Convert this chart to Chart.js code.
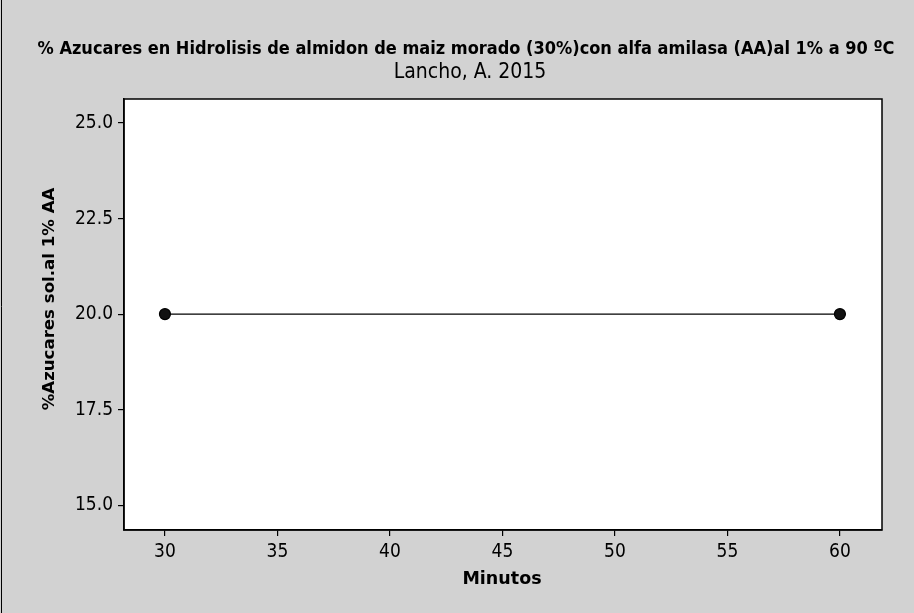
<!DOCTYPE html>
<html>
<head>
<meta charset="utf-8">
<script src="https://cdn.jsdelivr.net/npm/chart.js@4"></script>
<style>
html,body{margin:0;padding:0;background:#d2d2d2;}
#wrap{position:relative;width:914px;height:613px;}
</style>
</head>
<body>
<div id="wrap"><canvas id="c" width="914" height="613"></canvas></div>
<script>
const minutos = [30, 60];
const azucares = [20.0, 20.0];
const xTicks = [30, 35, 40, 45, 50, 55, 60];
const yTicks = [15.0, 17.5, 20.0, 22.5, 25.0];
const titleText = "% Azucares en Hidrolisis de almidon de maiz morado (30%)con alfa amilasa (AA)al 1% a 90 ºC";
const subtitleText = "Lancho, A. 2015";
const xTitle = "Minutos";
const yTitle = "%Azucares sol.al 1% AA";

const points = minutos.map((x, i) => ({x: x, y: azucares[i]}));

const bgPlugin = {
  id: 'bg',
  beforeDraw(chart) {
    const ctx = chart.ctx;
    ctx.save();
    ctx.fillStyle = '#d2d2d2';
    ctx.fillRect(0, 0, chart.width, chart.height);
    const a = chart.chartArea;
    ctx.fillStyle = '#ffffff';
    ctx.fillRect(a.left, a.top, a.right - a.left, a.bottom - a.top);
    ctx.strokeStyle = '#000';
    ctx.lineWidth = 1;
    ctx.beginPath();
    ctx.moveTo(1.5, 0); ctx.lineTo(1.5, chart.height);
    ctx.stroke();
    ctx.restore();
  },
  afterDraw(chart) {
    const ctx = chart.ctx;
    const a = chart.chartArea;
    ctx.save();
    ctx.strokeStyle = '#000';
    ctx.lineWidth = 1.5;
    ctx.strokeRect(a.left, a.top, a.right - a.left, a.bottom - a.top);
    ctx.fillStyle = '#000';
    ctx.textAlign = 'center';
    ctx.textBaseline = 'middle';
    ctx.font = 'bold 18px "DejaVu Sans Condensed", "DejaVu Sans", sans-serif';
    ctx.fillText(titleText, 466, 49);
    ctx.font = '21px "DejaVu Sans Condensed", "DejaVu Sans", sans-serif';
    ctx.fillText(subtitleText, 470, 73);
    ctx.font = 'bold 17.5px "DejaVu Sans", sans-serif';
    ctx.fillText(xTitle, 502, 579);
    ctx.translate(50, 299);
    ctx.rotate(-Math.PI / 2);
    ctx.font = 'bold 16.6px "DejaVu Sans", sans-serif';
    ctx.fillText(yTitle, 0, 0);
    ctx.restore();
  }
};

new Chart(document.getElementById('c'), {
  type: 'scatter',
  data: {
    datasets: [{
      data: points,
      showLine: true,
      borderColor: '#000',
      borderWidth: 1.2,
      backgroundColor: '#000',
      pointRadius: 5.5,
      pointBorderColor: '#000',
      pointBackgroundColor: '#111',
      tension: 0
    }]
  },
  options: {
    responsive: false,
    animation: false,
    devicePixelRatio: 1,
    layout: { padding: { left: 0, top: 99, right: 32, bottom: 0 } },
    plugins: { legend: { display: false }, tooltip: { enabled: false }, title: { display: false } },
    scales: {
      x: {
        type: 'linear',
        min: 28.18,
        max: 61.87,
        afterBuildTicks(scale) { scale.ticks = xTicks.map(v => ({value: v})); },
        afterFit(scale) { scale.height = 83; },
        grid: { drawOnChartArea: false, drawTicks: true, tickLength: 6, color: '#000', lineWidth: 1.2 },
        border: { display: true, color: '#000', width: 1.5 },
        ticks: { color: '#000', font: { family: '"DejaVu Sans Condensed", "DejaVu Sans"', size: 19 }, padding: 5, callback: v => String(v) }
      },
      y: {
        type: 'linear',
        min: 14.35,
        max: 25.63,
        afterBuildTicks(scale) { scale.ticks = yTicks.map(v => ({value: v})); },
        afterFit(scale) { scale.width = 124; },
        grid: { drawOnChartArea: false, drawTicks: true, tickLength: 6, color: '#000', lineWidth: 1.2 },
        border: { display: true, color: '#000', width: 1.5 },
        ticks: { color: '#000', font: { family: '"DejaVu Sans Condensed", "DejaVu Sans"', size: 19 }, padding: 5, callback: v => v.toFixed(1) }
      }
    }
  },
  plugins: [bgPlugin]
});
</script>
</body>
</html>
